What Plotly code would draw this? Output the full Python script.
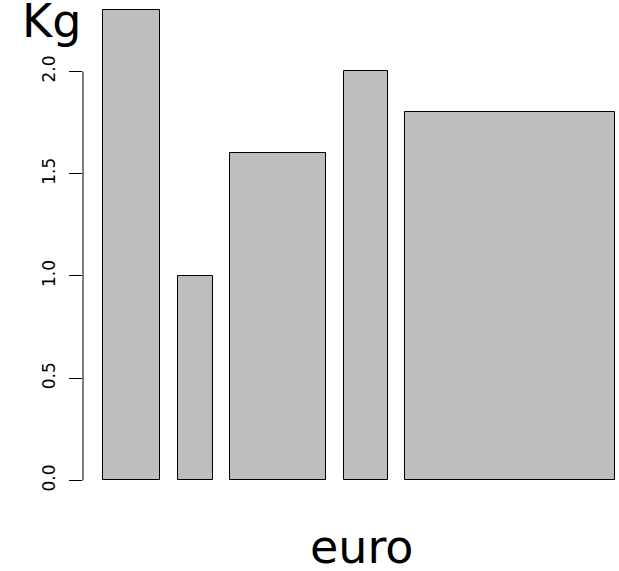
import numpy as np
import plotly.graph_objects as go

# Data (variable-width barplot)
heights = [2.3, 1.0, 1.6, 2.0, 1.8]
widths = [1.3, 0.8, 2.2, 1.0, 4.8]
y_ticks = [0.0, 0.5, 1.0, 1.5, 2.0]
y_tick_labels = ["0.0", "0.5", "1.0", "1.5", "2.0"]
x_label = "euro"
y_label = "Kg"

space = 0.2 * np.mean(widths)
lefts = []
pos = space
for w in widths:
    lefts.append(pos)
    pos += w + space
centers = [l + w / 2 for l, w in zip(lefts, widths)]

W, H = 619, 571
L, R, T, B = 83, 0, 0, 72
FONT = "DejaVu Sans"

fig = go.Figure()
fig.add_trace(go.Bar(
    x=centers, y=heights, width=widths,
    marker=dict(color="#BEBEBE", line=dict(color="black", width=1)),
    showlegend=False, hoverinfo="skip",
))

fig.update_layout(
    width=W, height=H,
    margin=dict(l=L, r=R, t=T, b=B, pad=0),
    paper_bgcolor="white", plot_bgcolor="white",
    bargap=0,
    xaxis=dict(range=[-0.06, 12.206], visible=False, showgrid=False, zeroline=False),
    yaxis=dict(
        range=[-0.0905, 2.3496],
        tickvals=y_ticks, ticktext=y_tick_labels,
        ticks="outside", ticklen=13, tickwidth=1, tickcolor="black",
        tickangle=-90,
        tickfont=dict(family=FONT, size=17, color="black"),
        showgrid=False, zeroline=False, showline=False,
        ticklabelstandoff=7,
    ),
    shapes=[dict(type="line", xref="paper", yref="y", x0=0, x1=0, y0=0, y1=2.0,
                 line=dict(color="black", width=1))],
    annotations=[
        dict(text=y_label, xref="paper", yref="paper", x=(51.7 - L) / (W - L),
             y=(499 - 21) / 499, xanchor="center", yanchor="middle", showarrow=False,
             font=dict(family=FONT, size=46, color="black")),
        dict(text=x_label, xref="paper", yref="paper", x=(362 - L) / (W - L),
             y=(499 - 546.8) / 499, xanchor="center", yanchor="middle", showarrow=False,
             font=dict(family=FONT, size=46, color="black")),
    ],
)

fig.write_html(
    "out.html",
    config={"displayModeBar": False},
    post_script="document.body.style.margin='0px';document.body.style.padding='0px';",
)
